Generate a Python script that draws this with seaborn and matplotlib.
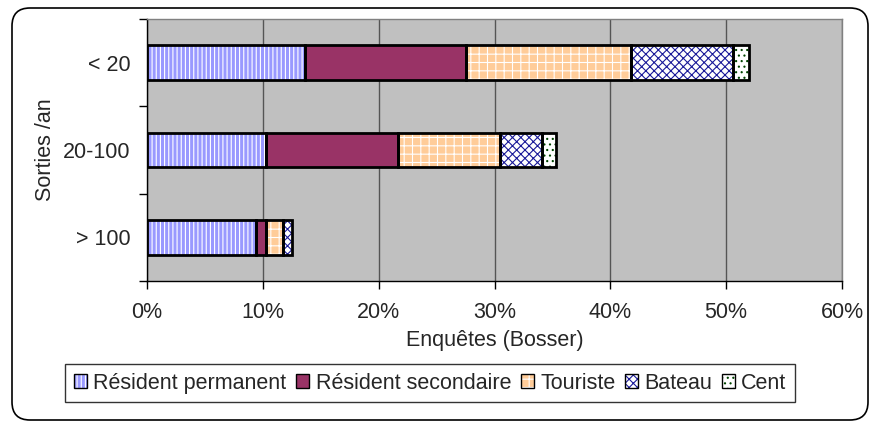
import matplotlib
matplotlib.use("Agg")
import matplotlib.pyplot as plt
import matplotlib.transforms as mtransforms
from matplotlib.patches import Patch, FancyBboxPatch
from matplotlib.ticker import FixedLocator, PercentFormatter
import numpy as np
import seaborn as sns

categories = ["< 20", "20-100", "> 100"]
series_names = ["Résident permanent", "Résident secondaire", "Touriste", "Bateau", "Cent"]
resident_permanent = [13.6, 10.3, 9.4]
resident_secondaire = [13.9, 11.4, 0.9]
touriste = [14.3, 8.8, 1.4]
bateau = [8.8, 3.6, 0.85]
cent = [1.4, 1.2, 0.0]
x_ticks = [0, 10, 20, 30, 40, 50, 60]

# fill colour, hatch, hatch colour per series
styles = [
    ("#9999ff", "||||", "white"),
    ("#993366", "", "#993366"),
    ("#ffcc99", "++", "white"),
    ("white", "xxxx", "#1a1a99"),
    ("white", "...", "#004400"),
]

sns.set_style("white")
plt.rcParams["font.family"] = ["Liberation Sans", "DejaVu Sans"]
plt.rcParams["hatch.linewidth"] = 0.8
fs = 15.5

fig = plt.figure(figsize=(8.71, 4.23), dpi=100)
ax = fig.add_axes([147 / 871, 1 - 281 / 423, 695 / 871, 262 / 423])
ax.set_facecolor("#c0c0c0")

values = np.array([resident_permanent, resident_secondaire, touriste, bateau, cent])
cum = values.cumsum(axis=0)

# fills: draw the longest cumulative bar first so that shorter ones cover it
for i in range(len(series_names) - 1, -1, -1):
    fc, hatch, hc = styles[i]
    n_before = len(ax.patches)
    sns.barplot(x=cum[i], y=categories, orient="h", width=0.4, color=fc,
                saturation=1, ax=ax)
    for p in ax.patches[n_before:]:
        p.set_hatch(hatch)
        p.set_edgecolor(hc)
        p.set_linewidth(0)

# black outlines for every segment
for i in range(len(series_names)):
    left = cum[i] - values[i]
    for j, cat in enumerate(categories):
        if values[i][j] > 0:
            ax.barh(j, values[i][j], left=left[j], height=0.4, fill=False,
                    edgecolor="black", linewidth=2, zorder=3)

ax.set_xlim(0, 60)
ax.set_ylim(2.5, -0.5)
ax.xaxis.set_major_locator(FixedLocator(x_ticks))
ax.xaxis.set_major_formatter(PercentFormatter(decimals=0))
ax.grid(axis="x", color="#555555", linewidth=1)
ax.set_axisbelow(True)

ax.set_yticks(range(len(categories)))
ax.set_yticklabels(categories)
ax.yaxis.set_minor_locator(FixedLocator([-0.5, 0.5, 1.5, 2.5]))
ax.tick_params(axis="y", which="major", length=0, pad=12, labelsize=fs)
ax.tick_params(axis="y", which="minor", length=6, width=1, color="black", direction="out", left=True)
ax.tick_params(axis="x", length=6, width=1, color="black", direction="out", bottom=True,
               labelsize=fs, pad=9)

for s in ["top", "right"]:
    ax.spines[s].set_color("#808080")
    ax.spines[s].set_linewidth(1)
for s in ["left", "bottom"]:
    ax.spines[s].set_color("black")
    ax.spines[s].set_linewidth(1)

ax.set_xlabel("Enquêtes (Bosser)", fontsize=fs, labelpad=5)
ax.set_ylabel("Sorties /an", fontsize=fs, labelpad=5)

handles = []
for fc, hatch, hc in styles:
    handles.append((Patch(facecolor=fc, hatch=hatch, edgecolor=hc, linewidth=0),
                    Patch(fill=False, edgecolor="black", linewidth=1)))
leg = fig.legend(handles, series_names, loc="center", bbox_to_anchor=(0.494, 0.094),
                 ncol=5, fontsize=fs, frameon=True, fancybox=False, edgecolor="black",
                 handlelength=0.6, handleheight=0.6, handletextpad=0.3,
                 columnspacing=0.45, borderpad=0.4, borderaxespad=0)
leg.get_frame().set_linewidth(1)

frame = FancyBboxPatch((12, 3), 856, 412, boxstyle="round,pad=0,rounding_size=18",
                       transform=mtransforms.IdentityTransform(), fill=False,
                       edgecolor="black", linewidth=1.2)
fig.patches.append(frame)

fig.savefig("out.png", dpi=100)
